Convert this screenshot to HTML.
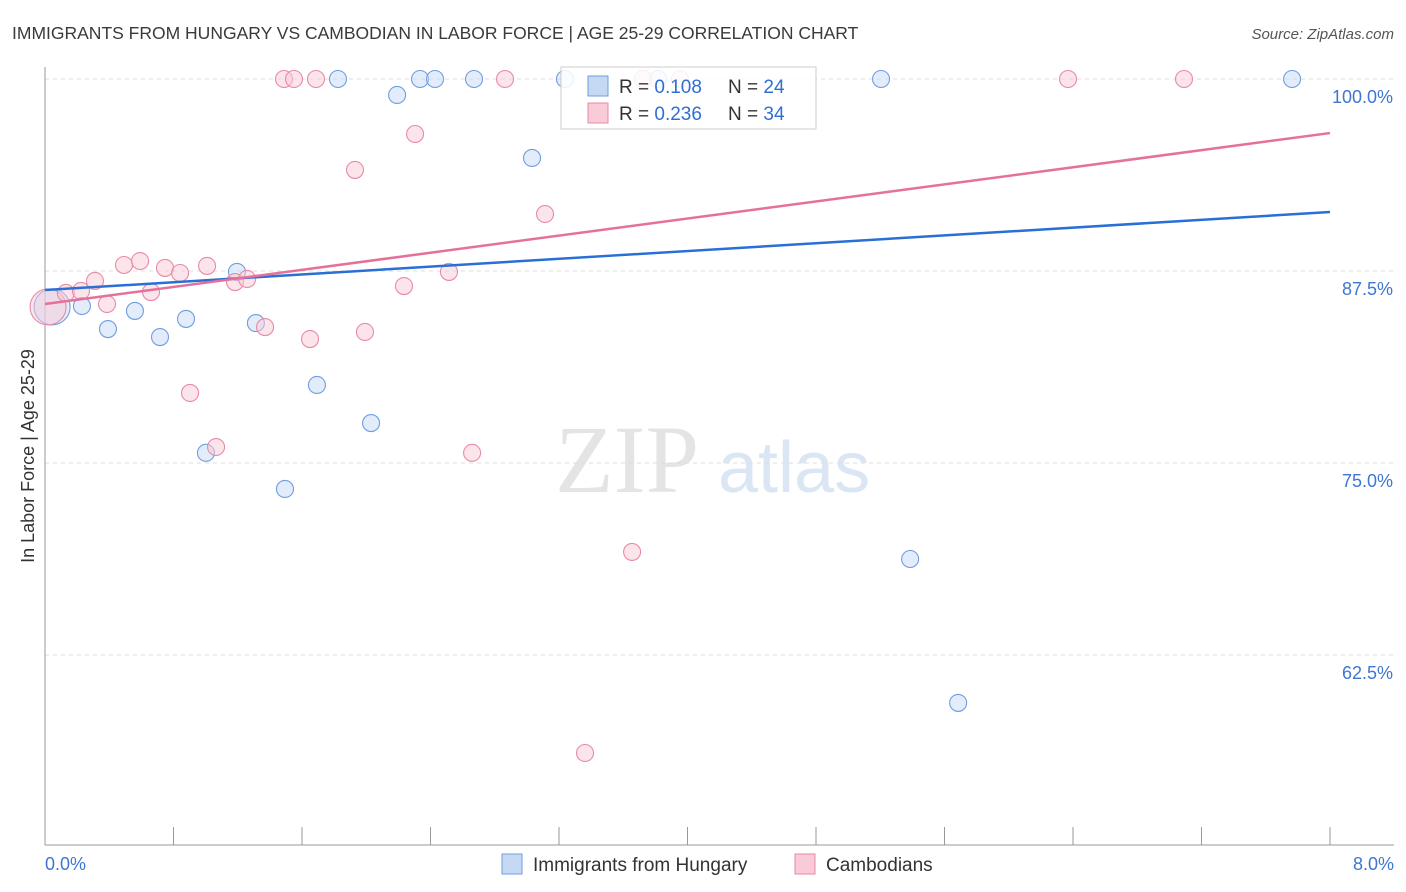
<!DOCTYPE html>
<html><head><meta charset="utf-8"><style>
body{margin:0;background:#fff;font-family:"Liberation Sans",sans-serif;}
svg{display:block}
</style></head><body>
<svg id="c" width="1406" height="892">
<text x="12" y="39" font-size="17.5" fill="#3a3a3a">IMMIGRANTS FROM HUNGARY VS CAMBODIAN IN LABOR FORCE | AGE 25-29 CORRELATION CHART</text>
<text x="1394" y="39" font-size="15" fill="#555" font-style="italic" text-anchor="end">Source: ZipAtlas.com</text>
<text x="34" y="456" font-size="18" fill="#333" text-anchor="middle" transform="rotate(-90 34 456)">In Labor Force | Age 25-29</text>
<text x="555" y="492" font-size="96" fill="#e4e4e4" font-family="Liberation Serif,serif">ZIP</text>
<text x="718" y="492" font-size="72" fill="#dbe6f5">atlas</text>
<g id="grid"></g><g id="marks"></g>
<g>
<rect x="561" y="67" width="255" height="62" fill="#fff" fill-opacity="0.85" stroke="#ccc"/>
<rect x="588" y="76" width="20" height="20" fill="#c5d9f5" stroke="#6f9ee0"/>
<text x="619" y="93" font-size="19" fill="#333">R = <tspan fill="#2f6fcf">0.108</tspan></text>
<text x="728" y="93" font-size="19" fill="#333">N = <tspan fill="#2f6fcf">24</tspan></text>
<rect x="588" y="103" width="20" height="20" fill="#f9cad8" stroke="#e88aa8"/>
<text x="619" y="120" font-size="19" fill="#333">R = <tspan fill="#2f6fcf">0.236</tspan></text>
<text x="728" y="120" font-size="19" fill="#333">N = <tspan fill="#2f6fcf">34</tspan></text>
</g>
<g>
<rect x="502" y="854" width="20" height="20" fill="#c5d9f5" stroke="#6f9ee0"/>
<text x="533" y="871" font-size="19" fill="#333">Immigrants from Hungary</text>
<rect x="795" y="854" width="20" height="20" fill="#f9cad8" stroke="#e88aa8"/>
<text x="826" y="871" font-size="19" fill="#333">Cambodians</text>
</g>
</svg>
<script>
const yTicks=[100,87.5,75,62.5];
const yTickLabels=["100.0%","87.5%","75.0%","62.5%"];
const xLabels=["0.0%","8.0%"];
const hungaryX=[0.044,0.230,0.392,0.560,0.716,0.878,1.002,1.195,1.313,1.494,1.693,1.824,2.030,2.192,2.335,2.428,2.671,3.032,3.237,3.817,5.205,5.386,5.685,7.764];
const hungaryY=[85.16,85.22,83.72,84.90,83.20,84.38,75.66,87.44,84.11,73.31,80.08,100,77.60,98.96,100,100,100,94.86,100,100,100,68.75,59.38,100];
const cambX=[0.019,0.130,0.224,0.311,0.386,0.492,0.592,0.660,0.747,0.841,0.903,1.009,1.065,1.183,1.258,1.370,1.488,1.550,1.650,1.687,1.930,1.992,2.235,2.304,2.515,2.659,2.864,3.113,3.362,3.655,3.723,3.953,6.369,7.091];
const cambY=[85.16,86.07,86.20,86.85,85.35,87.89,88.15,86.13,87.70,87.37,79.56,87.83,76.04,86.78,86.98,83.85,100,100,83.07,100,94.08,83.53,86.52,96.42,87.44,75.66,100,91.21,56.12,69.21,100,100,100,100];
const hungaryTrend=[86.26,91.34];
const cambTrend=[85.35,96.48];
const xs=v=>45+v/8*1285, ys=v=>79+(100-v)/12.5*192;
const NS="http://www.w3.org/2000/svg";
function mk(t,a,p){const e=document.createElementNS(NS,t);for(const k in a)e.setAttribute(k,a[k]);p.appendChild(e);return e;}
const g=document.getElementById('grid'), m=document.getElementById('marks');
yTicks.forEach((t,i)=>{
 const l=mk('line',{x1:45,x2:1394,y1:ys(t),y2:ys(t),stroke:'#ddd','stroke-dasharray':'4 4'},g);
 
 
 const tx=mk('text',{x:1393,y:ys(t)+24,'font-size':18,fill:'#3f76d2','text-anchor':'end'},g);
 tx.textContent=yTickLabels[i];
 
 
});
const ax=mk('line',{x1:45,x2:45,y1:67,y2:845,stroke:'#999'},g);


const bx=mk('line',{x1:45,x2:1394,y1:845,y2:845,stroke:'#999'},g);


for(let i=1;i<=10;i++){const t=mk('line',{x1:xs(i*0.8),x2:xs(i*0.8),y1:827,y2:845,stroke:'#999'},g);
 
 }
xLabels.forEach((s,i)=>{const t=mk('text',{x:i?1394:45,y:870,'font-size':18,fill:'#3f76d2','text-anchor':i?'end':'start'},g);t.textContent=s;
 
 });
function pts(X,Y,f,s,name){X.forEach((x,i)=>{const c=mk('circle',{cx:xs(x),cy:ys(Y[i]),r:i===0?18:8.5,fill:f,'fill-opacity':0.5,stroke:s,'stroke-width':1.1},m);
 
 });}
pts(hungaryX,hungaryY,'#c5d9f5','#6f9ee0','hungary-point');
pts(cambX,cambY,'#f9cad8','#e88aa8','cambodian-point');
const l1=mk('line',{x1:xs(0),x2:xs(8),y1:ys(hungaryTrend[0]),y2:ys(hungaryTrend[1]),stroke:'#2a6fd6','stroke-width':2.5},m);


const l2=mk('line',{x1:xs(0),x2:xs(8),y1:ys(cambTrend[0]),y2:ys(cambTrend[1]),stroke:'#e5709a','stroke-width':2.5},m);


</script>
</body></html>
